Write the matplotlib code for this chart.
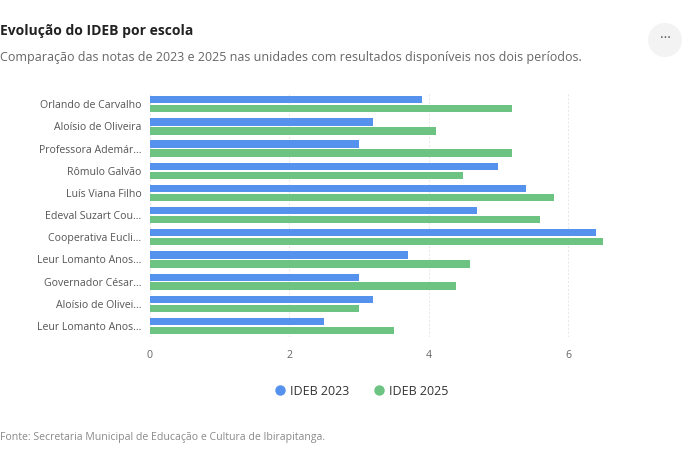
import matplotlib
matplotlib.use("Agg")
from matplotlib import pyplot as plt
from matplotlib.lines import Line2D
from matplotlib.patches import Ellipse
import numpy as np

plt.rcParams['font.family'] = ['Open Sans', 'DejaVu Sans']

escolas = [
    "Orlando de Carvalho",
    "Aloísio de Oliveira",
    "Professora Ademár...",
    "Rômulo Galvão",
    "Luís Viana Filho",
    "Edeval Suzart Cou...",
    "Cooperativa Eucli...",
    "Leur Lomanto Anos...",
    "Governador César...",
    "Aloísio de Olivei...",
    "Leur Lomanto Anos...",
]
ideb_2023 = [3.9, 3.2, 3.0, 5.0, 5.4, 4.7, 6.4, 3.7, 3.0, 3.2, 2.5]
ideb_2025 = [5.2, 4.1, 5.2, 4.5, 5.8, 5.6, 6.5, 4.6, 4.4, 3.0, 3.5]
series = ["IDEB 2023", "IDEB 2025"]
cores = ["#5592ee", "#6cc382"]
xticks = [0, 2, 4, 6]

fig = plt.figure(figsize=(7, 4.5), dpi=100)
ax = fig.add_axes([0.214, 0.251, 0.697, 0.542])

y = np.arange(len(escolas))
h = 0.33
ax.barh(y - 0.2, ideb_2023, height=h, color=cores[0], zorder=3)
ax.barh(y + 0.2, ideb_2025, height=h, color=cores[1], zorder=3)

ax.set_ylim(len(escolas) - 0.5, -0.5)
ax.set_xlim(0, 7)
ax.set_yticks(y)
ax.set_yticklabels(escolas, fontsize=7.6, color="#555555")
ax.set_xticks(xticks)
ax.set_xticklabels([str(t) for t in xticks], fontsize=7.6, color="#666666")
ax.tick_params(length=0, pad=6)
ax.tick_params(axis="x", pad=9)
for s in ax.spines.values():
    s.set_visible(False)
ax.grid(axis="x", color="#e6e6e6", linestyle=(0, (2, 2)), linewidth=0.7, zorder=0)

handles = [Line2D([], [], marker="o", linestyle="", markersize=6.5,
                  markerfacecolor=c, markeredgecolor=c) for c in cores]
fig.legend(handles, series, loc="center", bbox_to_anchor=(0.514, 0.131),
           ncol=2, frameon=False, fontsize=9, handletextpad=0.1,
           handlelength=1.4, columnspacing=1.7, labelcolor="#333333")

fig.text(0.0, 0.931, "Evolução do IDEB por escola", fontsize=10, fontweight="bold",
         color="#222222", va="center")
fig.text(0.0, 0.873, "Comparação das notas de 2023 e 2025 nas unidades com resultados disponíveis nos dois períodos.",
         fontsize=9.0, color="#666666", va="center")
fig.text(0.0, 0.027, "Fonte: Secretaria Municipal de Educação e Cultura de Ibirapitanga.",
         fontsize=7.6, color="#8a8a8a", va="center")

circ = Ellipse((665 / 700, 1 - 40 / 450), 34 / 700, 34 / 450, transform=fig.transFigure,
               facecolor="#f3f3f3", edgecolor="none")
fig.patches.append(circ)
fig.text(665 / 700, 1 - 39 / 450, "···", fontsize=10, color="#555555",
         ha="center", va="center")

fig.savefig("out.png", dpi=100, facecolor="white")
